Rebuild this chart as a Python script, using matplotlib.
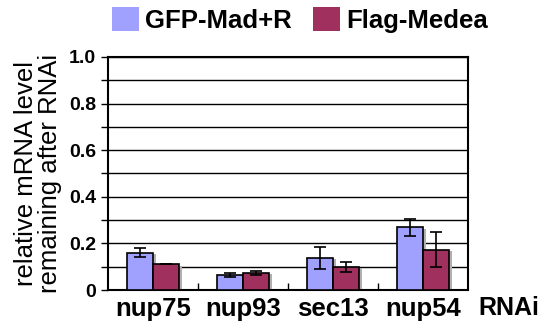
import matplotlib.pyplot as plt
from matplotlib.patches import Patch
import numpy as np

plt.rcParams['font.family'] = ['Liberation Sans', 'DejaVu Sans']

genes = ["nup75", "nup93", "sec13", "nup54"]
series = ["GFP-Mad+R", "Flag-Medea"]
gfp_vals = [0.16, 0.064, 0.139, 0.269]
gfp_err = [0.02, 0.007, 0.047, 0.036]
flag_vals = [0.11, 0.074, 0.10, 0.172]
flag_err = [0.0, 0.008, 0.021, 0.075]
colors = ["#a0a0ff", "#a0305e"]

fig = plt.figure(figsize=(5.43, 3.33), dpi=100)
ax = fig.add_axes([0.199, 0.129, 0.663, 0.70])

x = np.arange(len(genes))
w = 0.29
err_kw = dict(ecolor="black", capsize=4, elinewidth=1.2, capthick=1.2)

# gray drop shadow behind bars
for off, vals in [(-w / 2, gfp_vals), (w / 2, flag_vals)]:
    ax.bar(x + off + 0.03, np.array(vals), w, bottom=-0.006, color="#b0b0b0",
           zorder=2)

ax.bar(x - w / 2, gfp_vals, w, yerr=[gfp_err, gfp_err], color=colors[0],
       edgecolor="black", linewidth=1.2, error_kw=err_kw, zorder=3)
ax.bar(x + w / 2, flag_vals, w, yerr=[flag_err, flag_err], color=colors[1],
       edgecolor="black", linewidth=1.2, error_kw=err_kw, zorder=3)

ax.set_xlim(-0.5, len(genes) - 0.5)
ax.set_ylim(0, 1.0)
ax.set_yticks(np.arange(0, 1.01, 0.2))
ax.set_yticklabels(["0", "0.2", "0.4", "0.6", "0.8", "1.0"])
ax.set_yticks(np.arange(0, 1.01, 0.1), minor=True)
ax.yaxis.grid(True, which="both", color="black", linewidth=1.0)
ax.set_axisbelow(True)

ax.set_xticks(np.arange(0.5, len(genes) - 0.5), minor=True)
ax.set_xticks(x)
ax.set_xticklabels(genes, fontsize=18.5, fontweight="bold")
ax.tick_params(axis="x", which="major", length=0, pad=5)
ax.tick_params(axis="x", which="minor", length=5, direction="in", width=1)
ax.tick_params(axis="y", which="both", length=5, width=1)
ax.tick_params(axis="y", labelsize=14)
for lab in ax.get_yticklabels():
    lab.set_fontweight("bold")
for sp in ax.spines.values():
    sp.set_linewidth(1.5)

ax.text(1.03, -0.025, "RNAi", transform=ax.transAxes, fontsize=18,
        fontweight="bold", va="top", ha="left")
ax.set_ylabel("relative mRNA level\nremaining after RNAi", fontsize=18.5,
              linespacing=1.0, labelpad=5)

handles = [Patch(facecolor=c, edgecolor="none") for c in colors]
ax.legend(handles, series, loc="lower left", bbox_to_anchor=(-0.018, 1.06),
          ncol=2, frameon=False, prop=dict(size=18.5, weight="bold"),
          handlelength=1.05, handleheight=1.05, handletextpad=0.25,
          columnspacing=0.8, borderaxespad=0)

fig.savefig("out.png", dpi=100)
